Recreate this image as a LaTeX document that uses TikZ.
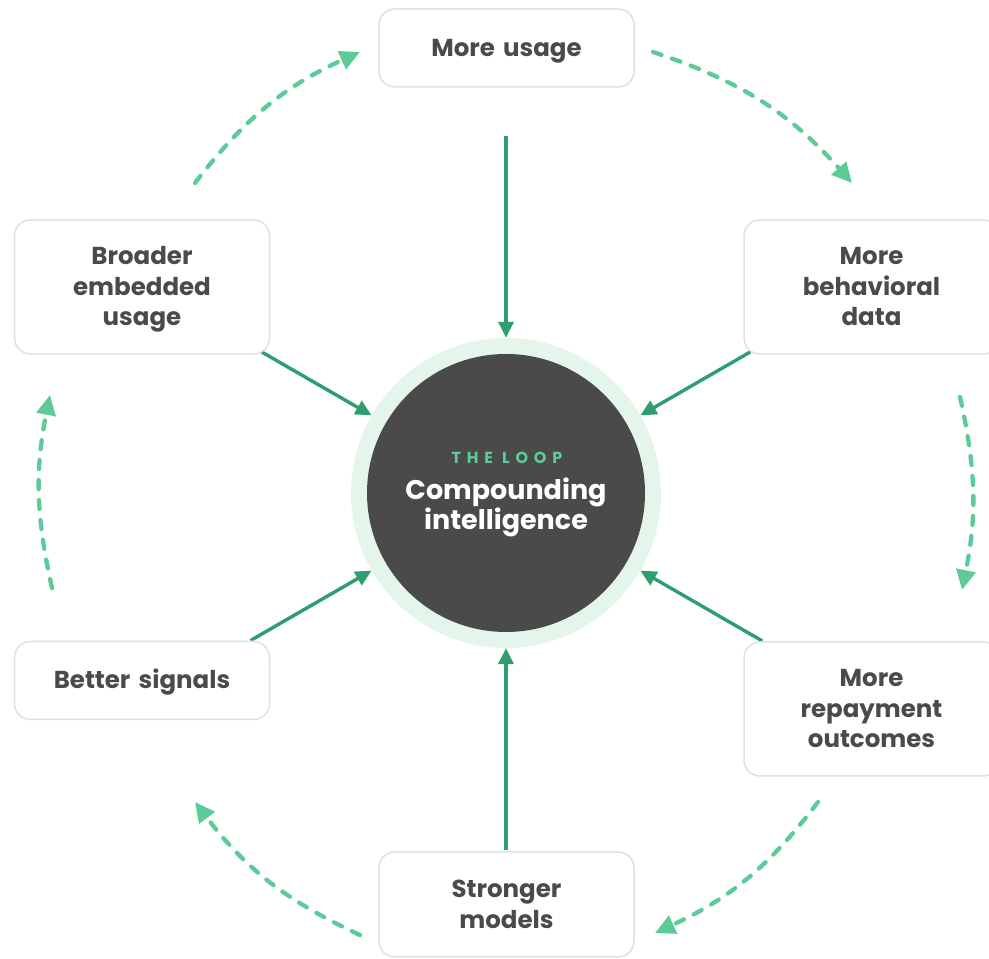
\documentclass[tikz,border=0pt]{standalone}
\usepackage{fontspec}
\setmainfont{Poppins}
\newfontfamily\tagfont{Poppins}[LetterSpace=36]
\usetikzlibrary{arrows.meta}

\definecolor{ink}{HTML}{4A4A4A}
\definecolor{hubgray}{HTML}{4A4A4A}
\definecolor{ringmint}{HTML}{E4F5EC}
\definecolor{feedgreen}{HTML}{2E9E6E}
\definecolor{loopmint}{HTML}{5DCB97}

\begin{document}
\begin{tikzpicture}[x=1pt,y=1pt,
  stage/.style={draw=black!12,line width=1.5pt,fill=white,rounded corners=16pt,
    minimum width=255pt,minimum height=78pt,inner sep=4pt,text width=235pt,
    align=center,text=ink,font=\bfseries\fontsize{24.5}{30.5}\selectfont,
    execute at begin node={\rule{0pt}{24pt}},
    execute at end node={\rule[-7pt]{0pt}{7pt}}},
  feed/.style={draw=feedgreen,line width=3.4pt,-{Triangle[length=16pt,width=15pt]}},
  loopflow/.style={draw=loopmint,line width=4.3pt,dash pattern=on 9pt off 11pt,
    line cap=round,-{Triangle[length=20pt,width=19pt]}}]
\path[use as bounding box] (0,0) rectangle (989,959);

% hub with its pale ring
\node[circle,fill=ringmint,minimum size=310pt,inner sep=0pt] (core) at (506,466) {};
\fill[hubgray] (core.center) circle[radius=139];
\node[text=loopmint,font=\tagfont\bfseries\fontsize{16}{18}\selectfont] (tag) at (507,501) {THE LOOP};
\node[align=center,text=white,font=\bfseries\fontsize{27}{29}\selectfont] (title) at (506,452) {Compounding\\intelligence};

% spokes into the hub
\coordinate (fromusage) at ([shift={(90:357)}]core.center);
\coordinate (frombehavior) at ([shift={(30:282)}]core.center);
\coordinate (fromrepay) at ([shift={(330:296)}]core.center);
\coordinate (frommodels) at ([shift={(270:357)}]core.center);
\coordinate (fromsignals) at ([shift={(210:295)}]core.center);
\coordinate (fromembed) at ([shift={(150:282)}]core.center);
\draw[feed] (fromusage) -- (core.90);
\draw[feed] (frombehavior) -- (core.30);
\draw[feed] (fromrepay) -- (core.330);
\draw[feed] (frommodels) -- (core.270);
\draw[feed] (fromsignals) -- (core.210);
\draw[feed] (fromembed) -- (core.150);

% stages round the loop
\node[stage] (usage) at (506.5,911) {More usage};
\node[stage,minimum height=134pt] (behavior) at (871.5,672) {More\\behavioral\\data};
\node[stage,minimum height=134pt] (repay) at (871.5,250) {More\\repayment\\outcomes};
\node[stage,minimum height=105pt] (models) at (506.5,54.5) {Stronger\\models};
\node[stage] (signals) at (142,278.5) {Better signals};
\node[stage,minimum height=134pt] (embed) at (142,672) {Broader\\embedded\\usage};

% dashed loop, clockwise
\coordinate (loopa) at (653,907);  \coordinate (loopb) at (852,776);
\coordinate (loopc) at (960,562);  \coordinate (loopd) at (962,369);
\coordinate (loope) at (818,157);  \coordinate (loopf) at (655,26);
\coordinate (loopg) at (360,24);   \coordinate (looph) at (195,157);
\coordinate (loopi) at (52,371);   \coordinate (loopj) at (50,564);
\coordinate (loopk) at (195,776);  \coordinate (loopl) at (360,907);
\draw[loopflow] (loopa) to[bend left=15] (loopb);
\draw[loopflow] (loopc) to[bend left=12] (loopd);
\draw[loopflow] (loope) to[bend left=14] (loopf);
\draw[loopflow] (loopg) to[bend left=14] (looph);
\draw[loopflow] (loopi) to[bend left=12] (loopj);
\draw[loopflow] (loopk) to[bend left=14] (loopl);
\end{tikzpicture}
\end{document}
